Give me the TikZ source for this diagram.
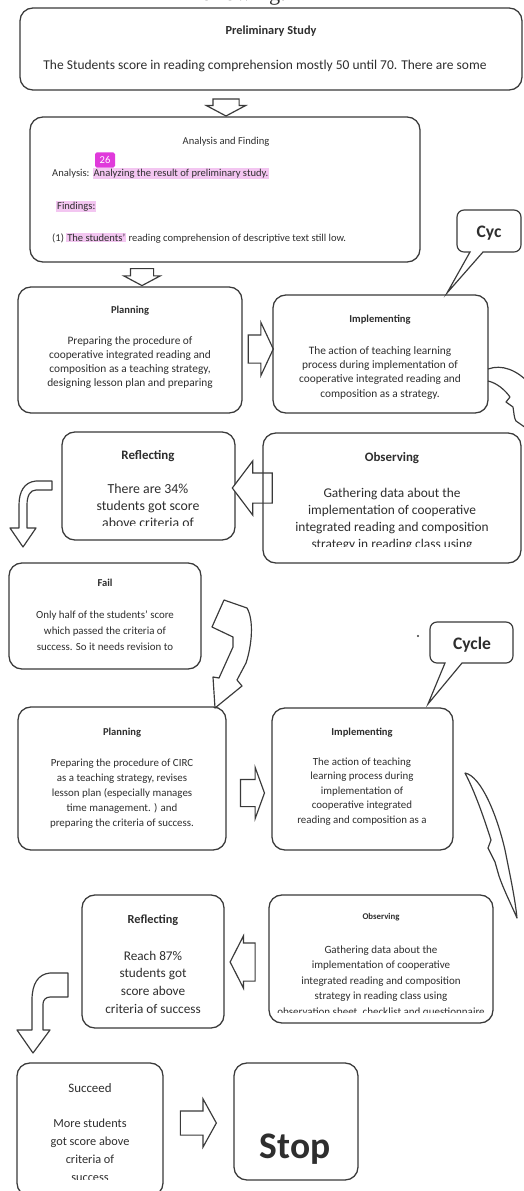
\documentclass[tikz,border=0pt]{standalone}
\usepackage{fontspec}
\setmainfont{Carlito}
\newfontfamily\leadfont{Liberation Serif}
\usetikzlibrary{shapes.arrows,fit}

\definecolor{linegray}{HTML}{3A3A3A}
\definecolor{inkgray}{HTML}{2E2E2E}
\definecolor{markpink}{HTML}{F3C6F1}
\definecolor{tagpink}{HTML}{E03ADB}
\setlength{\fboxsep}{0.8pt}
\newcommand{\marked}[1]{\colorbox{markpink}{#1}}

\tikzset{
  stage/.style={draw=linegray, line width=1.1pt, rounded corners=11pt, inner sep=0pt, fit={#1}},
  head/.style={anchor=base, text=inkgray, inner sep=0pt, font=\fontsize{#1}{#1}\selectfont\bfseries},
  note/.style args={#1/#2}{anchor=base, align=center, text=inkgray, inner sep=0pt, font=\fontsize{#1}{#2}\selectfont},
  line/.style={anchor=base west, text=inkgray, inner sep=0pt, font=\fontsize{9}{11}\selectfont},
  blockarrow/.style args={#1/#2}{single arrow, draw=linegray, fill=white, line width=1pt, inner xsep=0pt, inner ysep=#1, single arrow head extend=#2},
  bent/.style={draw=linegray, fill=white, line width=1pt, line join=round},
  callout/.style={draw=linegray, fill=white, line width=1pt},
}

\begin{document}
\begin{tikzpicture}[x=0.03cm, y=-0.03cm]
\useasboundingbox (0,0) rectangle (523,1191);
\fill[white] (0,0) rectangle (523,1191);% page
\node[anchor=base, inner sep=0pt, text=inkgray, font=\leadfont\fontsize{19}{22}\selectfont] (lead) at (240,0.5) {following:};

% preliminary study
\node[stage={(20,8) (522,90)}] (pre) {};
\node[head=10.5] (preT) at (271,34) {Preliminary Study};
\node[note=11.5/13] (preB) at (265,69) {The Students score in reading comprehension mostly 50 until 70. There are some};
\node[blockarrow=0.375cm/0.195cm, rotate=-90, minimum height=0.51cm, single arrow tip angle=124] (dn1) at (226,104) {};

% analysis and finding
\node[stage={(30,117) (420,262)}] (ana) {};
\node[anchor=base, inner sep=0pt, text=inkgray, font=\fontsize{9}{11}\selectfont] (anaT) at (226,144) {Analysis and Finding};
\node[line] (anaA) at (52,176) {Analysis: \marked{Analyzing the result of preliminary study.}};
\node[line] (anaF) at (56,209) {\marked{Findings:}};
\node[line] (anaR) at (52,241) {(1) \marked{The students'} reading comprehension of descriptive text still low.};
\node[fill=tagpink, text=white, rounded corners=1.5pt, minimum width=0.6cm, minimum height=0.46cm, inner sep=0pt, font=\fontsize{9}{9}\selectfont] (tag) at (105,160) {26};
\node[blockarrow=0.33cm/0.2cm, rotate=-90, minimum height=0.51cm, single arrow tip angle=124] (dn2) at (142,274) {};

% first cycle
\draw[callout] (470,252) [rounded corners=6pt] -- (457,252) -- (457,210) -- (521,210) -- (521,252) [sharp corners] -- (483,252) -- (447,293) -- cycle;
\node[head=15] (cyc) at (489,237) {Cyc};

\node[stage={(18,287) (242,413)}] (plan1) {};
\node[head=9] (plan1T) at (130,313) {Planning};
\node[note=9.7/11.9] (plan1B) at (130,386) {Preparing the procedure of\\cooperative integrated reading and\\composition as a teaching strategy,\\designing lesson plan and preparing};
\node[blockarrow=0.405cm/0.375cm, minimum height=0.75cm, single arrow tip angle=130] (r1) at (257.5,349) {};

\node[stage={(273,295) (488,413)}] (impl1) {};
\node[head=9] (impl1T) at (380,322) {Implementing};
\node[note=9.7/12.2] (impl1B) at (380,397) {The action of teaching learning\\process during implementation of\\cooperative integrated reading and\\composition as a strategy.};
% bent arrow down the right edge
\draw[bent, fill=none] (488,369) .. controls (502,364) and (517,370) .. (530,384);
\draw[bent, fill=none] (488,381) .. controls (497,383) and (505,390) .. (510,397) -- (506,402) -- (513,407) .. controls (514,413) and (514,418) .. (516,421) -- (526,428);

\node[stage={(62,432) (235,540)}] (refl1) {};
\node[head=11] (refl1T) at (148,459) {Reflecting};
\begin{scope}
  \clip (62,432) rectangle (235,525);
  \node[note=11.8/14.5] (refl1B) at (148,527) {There are 34\%\\students got score\\above criteria of};
\end{scope}
\node[blockarrow=0.435cm/0.36cm, rotate=180, minimum height=1.2cm, single arrow tip angle=106] (l1) at (258,488) {};

\node[stage={(263,433) (521,563)}] (obs1) {};
\node[head=11] (obs1T) at (392,461) {Observing};
\begin{scope}
  \clip (263,433) rectangle (521,546);
  \node[note=11.4/14.5] (obs1B) at (392,548) {Gathering data about the\\implementation of cooperative\\integrated reading and composition\\strategy in reading class using};
\end{scope}

% fail, back to planning
\draw[bent] (52,481) -- (36,481) .. controls (24,482) and (19,492) .. (19,505) -- (19,528) -- (10,528) -- (23,547) -- (36,528) -- (27,528) -- (27,505) .. controls (27,496) and (30,490) .. (36,490) -- (52,490) -- cycle;
\node[stage={(9,563) (201,669)}] (fail) {};
\node[head=9] (failT) at (105,586) {Fail};
\node[note=9.3/13.6] (failB) at (105,650) {Only half of the students' score\\which passed the criteria of\\success. So it needs revision to};
\draw[bent] (224,600) -- (247,608) .. controls (254,620) and (252,645) .. (246,663) -- (237,680) -- (242,686) -- (215,708) -- (213,677) -- (219,678) -- (233,647) -- (233,637) -- (212,627) -- cycle;

% second cycle
\fill[linegray] (418,636) circle (1pt);
\draw[callout] (445,663) [rounded corners=6pt] -- (430,663) -- (430,622) -- (513,622) -- (513,663) [sharp corners] -- (462,663) -- (428,704) -- cycle;
\node[head=15] (cycle) at (472,649) {Cycle};

\node[stage={(18,707) (226,850)}] (plan2) {};
\node[head=9] (plan2T) at (122,735) {Planning};
\node[note=9.3/12.75] (plan2B) at (122,826) {Preparing the procedure of CIRC\\as a teaching strategy, revises\\lesson plan (especially manages\\time management. ) and\\preparing the criteria of success.};
\node[blockarrow=0.39cm/0.36cm, minimum height=0.72cm, single arrow tip angle=140] (r2) at (250,793) {};

\node[stage={(272,708) (453,850)}] (impl2) {};
\node[head=9] (impl2T) at (362,735) {Implementing};
\node[note=9.3/12.3] (impl2B) at (362,823) {The action of teaching\\learning process during\\implementation of\\cooperative integrated\\reading and composition as a};
\draw[bent] (465,773) .. controls (481,776) and (497,815) .. (505,850) .. controls (510,875) and (515,898) .. (517,918) .. controls (510,902) and (503,888) .. (499,876) -- (495,862) -- (488,848) -- (491,840) .. controls (484,818) and (475,792) .. cycle;

\node[stage={(82,895) (224,1028)}] (refl2) {};
\node[head=10.5] (refl2T) at (153,923) {Reflecting};
\node[note=11.3/15] (refl2B) at (153,1013) {Reach 87\%\\students got\\score above\\criteria of success};
\node[blockarrow=0.555cm/0.21cm, rotate=180, minimum height=0.75cm, single arrow tip angle=126] (l2) at (247.5,962) {};

\node[stage={(269,895) (493,1023)}] (obs2) {};
\node[head=7.5] (obs2T) at (381,919) {Observing};
\begin{scope}
  \clip (269,895) rectangle (493,1012);
  \node[note=9.4/13.2] (obs2B) at (381,1015) {Gathering data about the\\implementation of cooperative\\integrated reading and composition\\strategy in reading class using\\observation sheet, checklist and questionnaire};
\end{scope}

% succeed and stop
\draw[bent] (68,973) -- (50,973) .. controls (38,974) and (32,984) .. (32,1000) -- (32,1030) -- (17,1030) -- (33,1053) -- (50,1030) -- (43,1030) -- (43,1004) .. controls (43,1000) and (46,997) .. (50,997) -- (68,997) -- cycle;
\node[stage={(17,1063) (163,1196)}] (succ) {};
\node[anchor=base, inner sep=0pt, text=inkgray, font=\fontsize{11}{11}\selectfont] (succT) at (90,1092) {Succeed};
\begin{scope}
  \clip (17,1063) rectangle (163,1179);
  \node[note=10.5/15.3] (succB) at (90,1181) {More students\\got score above\\criteria of\\success};
\end{scope}
\node[blockarrow=0.345cm/0.36cm, minimum height=1.08cm, single arrow tip angle=122] (r3) at (195,1123) {};

\node[stage={(234,1063) (358,1180)}] (stop) {};
\node[head=32] (stopT) at (295,1158) {Stop};
\end{tikzpicture}
\end{document}
